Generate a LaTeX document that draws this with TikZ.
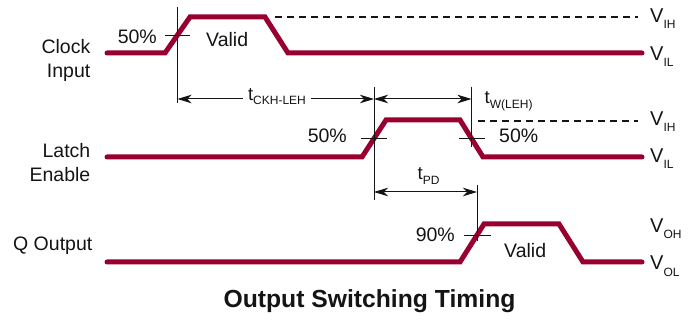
\documentclass[tikz,border=0pt]{standalone}
\usepackage{fontspec}
\setmainfont{Liberation Sans}
\usetikzlibrary{arrows.meta}
\definecolor{wavered}{RGB}{152,0,48}
\definecolor{ink}{RGB}{20,20,20}
\newcommand{\tsub}[2]{\raisebox{-#1}{\fontsize{12}{12}\selectfont #2}}
\begin{document}
\begin{tikzpicture}[x=1pt,y=-1pt,
  sig/.style={draw=wavered,line width=5pt,line cap=round,line join=miter},
  guide/.style={draw=ink,line width=0.9pt},
  refline/.style={draw=ink,line width=1.1pt,dash pattern=on 7pt off 5pt},
  dim/.style={draw=ink,line width=1pt,{Stealth[length=14pt,width=8.5pt,inset=4pt]}-{Stealth[length=14pt,width=8.5pt,inset=4pt]}},
  lbl/.style={font=\fontsize{19.5}{22}\selectfont,text=ink,inner sep=0pt},
  vlbl/.style={font=\fontsize{20}{22}\selectfont,text=ink,inner sep=0pt,anchor=base west},
  tlbl/.style={font=\fontsize{18.5}{22}\selectfont,text=ink,inner sep=0pt},
  title/.style={font=\fontsize{24.7}{28}\selectfont\bfseries,text=ink,inner sep=0pt}]
\useasboundingbox (0,0) rectangle (696,320);

% waveform coordinates
\coordinate (c0) at (107,53);  \coordinate (c1) at (165,53);  \coordinate (c2) at (190,17);
\coordinate (c3) at (265,17);  \coordinate (c4) at (288,53);  \coordinate (c5) at (642,53);
\coordinate (l0) at (107,157); \coordinate (l1) at (362,157); \coordinate (l2) at (386,120);
\coordinate (l3) at (460,120); \coordinate (l4) at (483,157); \coordinate (l5) at (642,157);
\coordinate (q0) at (107,262); \coordinate (q1) at (460,262); \coordinate (q2) at (484,224);
\coordinate (q3) at (559,224); \coordinate (q4) at (583,262); \coordinate (q5) at (642,262);

% reference (dashed) levels
\coordinate (dA) at (275,17);  \coordinate (dB) at (638,17);
\coordinate (dC) at (478,121); \coordinate (dD) at (638,121);
\draw[refline] (dA) -- (dB);
\draw[refline] (dC) -- (dD);

% waveforms
\draw[sig] (c0) -- (c1) -- (c2) -- (c3) -- (c4) -- (c5);
\draw[sig] (l0) -- (l1) -- (l2) -- (l3) -- (l4) -- (l5);
\draw[sig] (q0) -- (q1) -- (q2) -- (q3) -- (q4) -- (q5);

% vertical guide lines
\coordinate (v1t) at (177.5,7);  \coordinate (v1b) at (177.5,103);
\coordinate (v2t) at (374,87);   \coordinate (v2b) at (374,200);
\coordinate (v3t) at (471.5,87); \coordinate (v3b) at (471.5,147);
\coordinate (v4t) at (477,185);  \coordinate (v4b) at (477,241);
\draw[guide] (v1t) -- (v1b);
\draw[guide] (v2t) -- (v2b);
\draw[guide] (v3t) -- (v3b);
\draw[guide] (v4t) -- (v4b);

% crossing ticks
\coordinate (k1a) at (165,35);   \coordinate (k1b) at (190,35);
\coordinate (k2a) at (361,138.5); \coordinate (k2b) at (387,138.5);
\coordinate (k3a) at (459,138.5); \coordinate (k3b) at (485,138.5);
\coordinate (k4a) at (464,235);  \coordinate (k4b) at (491,235);
\draw[guide] (k1a) -- (k1b);
\draw[guide] (k2a) -- (k2b);
\draw[guide] (k3a) -- (k3b);
\draw[guide] (k4a) -- (k4b);

% dimension arrows
\coordinate (a1) at (177.5,99); \coordinate (a2) at (374,99);
\coordinate (a3) at (471.5,99);
\coordinate (b1) at (374,192);  \coordinate (b2) at (477,192);
\draw[dim] (a1) -- (a2);
\draw[dim] (a2) -- (a3);
\draw[dim] (b1) -- (b2);

% timing labels
\node[tlbl,fill=white,anchor=base,inner xsep=5pt,inner ysep=2pt] (tckh) at (277,101) {t\tsub{4pt}{CKH-LEH}};
\node[tlbl,anchor=base west] (tw) at (484.5,104) {t\tsub{4.5pt}{W(LEH)}};
\node[tlbl,anchor=base west] (tpd) at (417.5,180) {t\tsub{5pt}{PD}};

% signal names
\node[lbl,anchor=base east] (clk1) at (90.5,54) {Clock};
\node[lbl,anchor=base east] (clk2) at (90.5,77.5) {Input};
\node[lbl,anchor=base east] (le1) at (90.5,158) {Latch};
\node[lbl,anchor=base east] (le2) at (90.5,182) {Enable};
\node[lbl,anchor=base east] (qo) at (92.5,251) {Q Output};

% percentages and valid
\node[lbl,anchor=base east] (p1) at (157,44) {50\%};
\node[lbl,anchor=base east] (p2) at (347,143) {50\%};
\node[lbl,anchor=base west] (p3) at (499,143) {50\%};
\node[lbl,anchor=base east] (p4) at (455,242) {90\%};
\node[lbl,anchor=base west] (val1) at (206,47) {Valid};
\node[lbl,anchor=base west] (val2) at (504,258) {Valid};

% level labels
\node[vlbl] (vih1) at (650,23)  {V\tsub{6pt}{IH}};
\node[vlbl] (vil1) at (650,61)  {V\tsub{6pt}{IL}};
\node[vlbl] (vih2) at (650,126) {V\tsub{6pt}{IH}};
\node[vlbl] (vil2) at (650,163) {V\tsub{6pt}{IL}};
\node[vlbl] (voh)  at (650,233) {V\tsub{6pt}{OH}};
\node[vlbl] (vol)  at (650,270) {V\tsub{6pt}{OL}};

% title
\node[title,anchor=base] (ttl) at (369.5,308) {Output Switching Timing};
\end{tikzpicture}
\end{document}
